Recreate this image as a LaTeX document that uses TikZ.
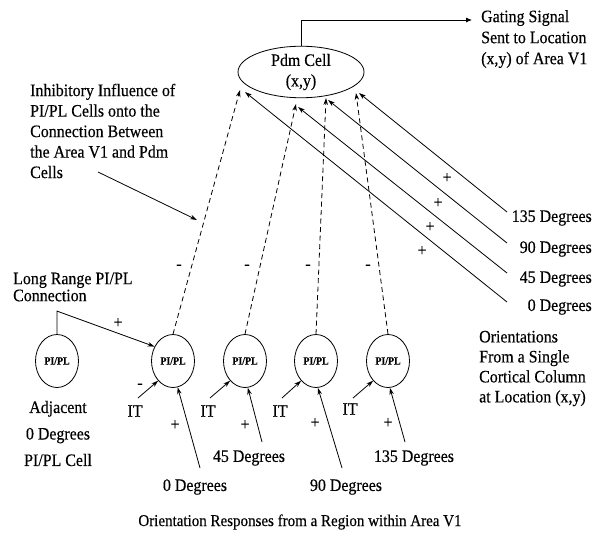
\documentclass[tikz,border=0pt]{standalone}
\usepackage{fontspec}
\setmainfont{Liberation Serif}
\newfontfamily\tf[FakeStretch=0.91,FakeBold=0.4]{Liberation Serif}
\newfontfamily\tfb[FakeStretch=0.9,FakeBold=0.3]{Liberation Serif Bold}
\usetikzlibrary{arrows.meta,shapes.geometric}
\begin{document}
\begin{tikzpicture}[x=1pt,y=-1pt,
  lbl/.style={inner sep=0pt, font=\tf\fontsize{17.5}{20.5}\selectfont},
  sgn/.style={inner sep=0pt, font=\tf\fontsize{17.5}{17.5}\selectfont},
  pcell/.style={draw, line width=0.8pt, ellipse, minimum width=43pt, minimum height=53pt, inner sep=0pt, font=\tfb\fontsize{11}{11}\selectfont},
  conn/.style={line width=0.8pt, -{Stealth[length=7pt,width=4.5pt]}},
  dconn/.style={conn, dash pattern=on 5pt off 3.5pt},
  plain/.style={line width=0.8pt}
]
\useasboundingbox (0,0) rectangle (601,537);

% Pdm cell
\node[draw, line width=0.8pt, ellipse, minimum width=126pt, minimum height=50pt, inner sep=0pt, align=center, lbl] (pdm) at (301,72) {Pdm Cell\\(x,y)};

% gating signal
\node[lbl, anchor=west, align=left, font=\tf\fontsize{17.5}{21}\selectfont] (gate) at (481,39) {Gating Signal\\Sent to Location\\(x,y) of Area V1};
\coordinate (gt) at (472,20);
\draw[plain, -{Latex[length=6pt,width=5pt]}] (pdm.north) |- (gt);

% inhibitory label
\node[lbl, anchor=west, align=left] (inh) at (30,131) {Inhibitory Influence of\\PI/PL Cells onto the\\Connection Between\\the Area V1 and Pdm\\Cells};
\coordinate (ia) at (98,172);
\coordinate (ib) at (197,220);
\draw[conn] (ia) -- (ib);

% PI/PL cells
\node[pcell] (c0) at (57,361) {PI/PL};
\node[pcell] (c1) at (173,361) {PI/PL};
\node[pcell] (c2) at (245,361) {PI/PL};
\node[pcell] (c3) at (316,361) {PI/PL};
\node[pcell] (c4) at (388,361) {PI/PL};

% tips at Pdm
\coordinate (p1) at (240,90);
\coordinate (p2) at (296,104);
\coordinate (p3) at (326,98);
\coordinate (p4) at (356,93);
\coordinate (o135) at (359,93);
\coordinate (o90) at (328,100);
\coordinate (o45) at (298,107);
\coordinate (o0) at (245,92);

% dashed inhibitory connections
\draw[dconn] (c1.north) -- (p1);
\draw[dconn] (c2.north) -- (p2);
\draw[dconn] (c3.north) -- (p3);
\draw[dconn] (c4.north) -- (p4);
\node[sgn] (m1) at (179,267) {-};
\node[sgn] (m2) at (247,267) {-};
\node[sgn] (m3) at (308,267) {-};
\node[sgn] (m4) at (368,267) {-};

% orientation inputs to Pdm
\node[lbl, anchor=east] (l135) at (592,218) {135 Degrees};
\node[lbl, anchor=east] (l90) at (592,249) {90 Degrees};
\node[lbl, anchor=east] (l45) at (592,279) {45 Degrees};
\node[lbl, anchor=east] (l0) at (592,307) {0 Degrees};
\coordinate (s135) at (507,212);
\coordinate (s90) at (507,243);
\coordinate (s45) at (507,273);
\coordinate (s0) at (507,302);
\draw[conn] (s135) -- (o135);
\draw[conn] (s90) -- (o90);
\draw[conn] (s45) -- (o45);
\draw[conn] (s0) -- (o0);
\node[sgn] (q1) at (447,178) {+};
\node[sgn] (q2) at (438,203) {+};
\node[sgn] (q3) at (430,227) {+};
\node[sgn] (q4) at (422,251) {+};

\node[lbl, anchor=west, align=left, font=\tf\fontsize{17.5}{20}\selectfont] (ori) at (479,368.5) {Orientations\\From a Single\\Cortical Column\\at Location (x,y)};

% long range connection
\node[anchor=west, align=left, inner sep=0pt, font=\tf\fontsize{17.5}{17}\selectfont] (lr) at (13,287) {Long Range PI/PL\\Connection};
\draw[conn] (c0.north) -- ++(0,-23) -- (c1.142);
\node[sgn] (lrp) at (118,323) {+};

\node[lbl, align=center, font=\tf\fontsize{17.5}{26.5}\selectfont] (adj) at (58,433.5) {Adjacent\\0 Degrees\\PI/PL Cell};

% IT inputs
\coordinate (i1) at (138,398);
\coordinate (i2) at (210,398);
\coordinate (i3) at (282,398);
\coordinate (i4) at (353,398);
\draw[conn] (i1) -- (c1.233);
\draw[conn] (i2) -- (c2.233);
\draw[conn] (i3) -- (c3.233);
\draw[conn] (i4) -- (c4.233);
\node[lbl] (it1) at (135,411) {IT};
\node[lbl] (it2) at (208,411) {IT};
\node[lbl] (it3) at (280,411) {IT};
\node[lbl] (it4) at (350,409) {IT};
\node[sgn] (itm) at (140,386) {-};

% orientation responses
\coordinate (b1) at (200,468);
\coordinate (b2) at (262,442);
\coordinate (b3) at (342,468);
\coordinate (b4) at (405,442);
\draw[conn] (b1) -- (c1.-80);
\draw[conn] (b2) -- (c2.-84);
\draw[conn] (b3) -- (c3.-86);
\draw[conn] (b4) -- (c4.-86);
\node[sgn] (bp1) at (175,425) {+};
\node[sgn] (bp2) at (245,425) {+};
\node[sgn] (bp3) at (315,423) {+};
\node[sgn] (bp4) at (388,423) {+};
\node[lbl] (d0) at (195,487) {0 Degrees};
\node[lbl] (d45) at (249,458) {45 Degrees};
\node[lbl] (d90) at (346,487) {90 Degrees};
\node[lbl] (d135) at (414,458) {135 Degrees};

\node[lbl, font=\tf\fontsize{16.5}{16.5}\selectfont] (title) at (300,522) {Orientation Responses from a Region within Area V1};
\end{tikzpicture}
\end{document}
